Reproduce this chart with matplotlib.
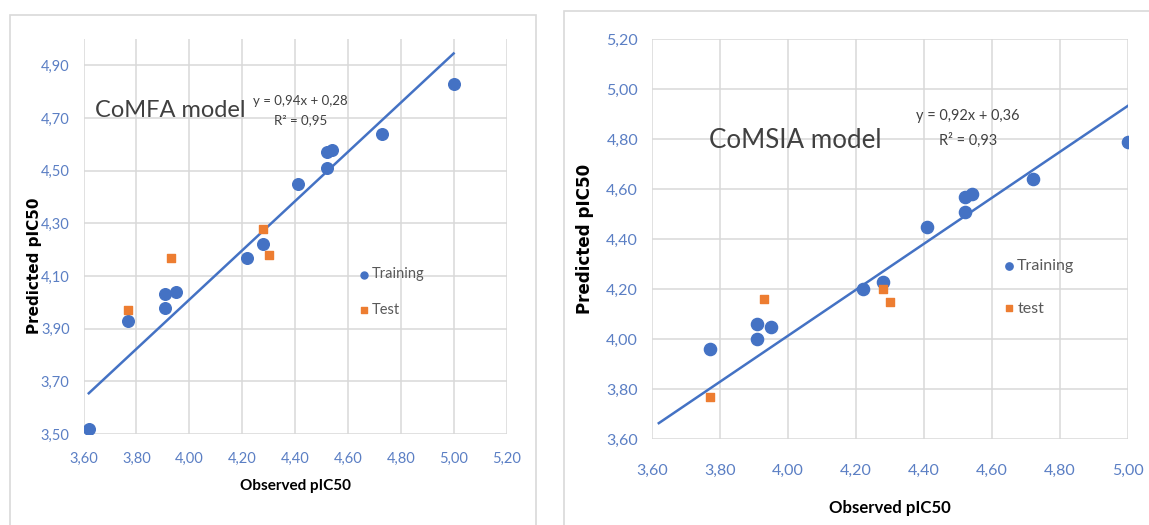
import numpy as np
import matplotlib.pyplot as plt
from matplotlib.patches import Rectangle

# CoMFA model (left panel)
comfa_train_x = [3.62, 3.77, 3.91, 3.91, 3.95, 4.22, 4.28, 4.41, 4.52, 4.54, 4.52, 4.73, 5.00]
comfa_train_y = [3.52, 3.93, 4.03, 3.98, 4.04, 4.17, 4.22, 4.45, 4.57, 4.58, 4.51, 4.64, 4.83]
comfa_test_x = [3.77, 3.93, 4.28, 4.30]
comfa_test_y = [3.97, 4.17, 4.28, 4.18]
comfa_fit = (0.935, 0.27)   # trend line as drawn
comfa_eq = "y = 0,94x + 0,28\nR² = 0,95"

# CoMSIA model (right panel)
comsia_train_x = [3.77, 3.91, 3.91, 3.95, 4.22, 4.28, 4.41, 4.52, 4.54, 4.52, 4.72, 5.00]
comsia_train_y = [3.96, 4.06, 4.00, 4.05, 4.20, 4.23, 4.45, 4.57, 4.58, 4.51, 4.64, 4.79]
comsia_test_x = [3.77, 3.93, 4.28, 4.30]
comsia_test_y = [3.77, 4.16, 4.20, 4.15]
comsia_fit = (0.92, 0.333)
comsia_eq = "y = 0,92x + 0,36\nR² = 0,93"

fit_range = [3.62, 5.00]

BLUE = '#4472C4'
ORANGE = '#ED7D31'
TICK = '#5b7fc4'
GRID = '#d9d9d9'
narrow = ['Lato', 'DejaVu Sans']

W, H = 1149, 525
fig = plt.figure(figsize=(W / 100, H / 100), dpi=100)

# panel frames
fig.patches.append(Rectangle((10 / W, -0.01), 526 / W, 1.01 - 15 / H, transform=fig.transFigure,
                             fill=False, edgecolor=GRID, lw=1.2))
fig.patches.append(Rectangle((564 / W, -0.01), 600 / W, 1.01 - 11 / H, transform=fig.transFigure,
                             fill=False, edgecolor=GRID, lw=1.2))


def comma(v):
    return f"{v:.2f}".replace('.', ',')


def panel(rect, tx, ty, ex, ey, fit, eq, title, test_name, xlim, ylim, xt, yt,
          title_pos, eq_pos, leg_anchor, k, xpad, xlpad, ylab_xy, legsp):
    ax = fig.add_axes(rect)
    ax.set_xlim(*xlim)
    ax.set_ylim(*ylim)
    ax.set_xticks(xt)
    ax.set_yticks(yt)
    ax.set_xticklabels([comma(v) for v in xt])
    ax.set_yticklabels([comma(v) for v in yt])
    ax.grid(True, color=GRID, lw=1.1)
    ax.set_axisbelow(True)
    for s in ax.spines.values():
        s.set_visible(False)
    ax.tick_params(length=0, labelcolor=TICK, labelsize=10.5 * k)
    ax.tick_params(axis='y', pad=10)
    ax.tick_params(axis='x', pad=xpad)
    for lab in ax.get_xticklabels() + ax.get_yticklabels():
        lab.set_family(narrow)

    ax.scatter(tx, ty, s=70 * k, color=BLUE, zorder=3, label='Training')
    ax.scatter(ex, ey, s=38 * k, color=ORANGE, marker='s', zorder=3, label=test_name)
    lx = np.array(fit_range)
    ax.plot(lx, fit[0] * lx + fit[1], color=BLUE, lw=1.8, zorder=2)

    ax.text(*title_pos, title, fontsize=17 * k, color='#404040', family=narrow,
            ha='center', va='center')
    ax.text(*eq_pos, eq, fontsize=9.5 * k, color='#404040', family=narrow,
            ha='center', va='center', linespacing=1.75)

    ax.set_xlabel('Observed pIC50', fontsize=11 * k, fontweight='bold', family=narrow,
                  labelpad=xlpad)
    ax.set_ylabel('Predicted pIC50', fontsize=11 * k, fontweight='bold')
    ax.yaxis.set_label_coords(*ylab_xy)

    leg = ax.legend(loc='upper left', bbox_to_anchor=leg_anchor, frameon=False,
                    fontsize=10.5 * k, labelcolor='#595959', handletextpad=0.1,
                    handlelength=0.8, labelspacing=legsp, borderpad=0, markerscale=0.6)
    for t in leg.get_texts():
        t.set_family(narrow)
    return ax


panel([83.5 / W, 1 - 434 / H, 423 / W, 395 / H],
      comfa_train_x, comfa_train_y, comfa_test_x, comfa_test_y, comfa_fit, comfa_eq,
      'CoMFA model', 'Test', (3.6, 5.2), (3.5, 5.0),
      np.arange(3.6, 5.21, 0.2), np.arange(3.5, 4.91, 0.2),
      (3.93, 4.73), (4.42, 4.728), (0.633, 0.44),
      1.0, 13, 9, (-0.098, 0.425), 1.45)

panel([652 / W, 1 - 439 / H, 476 / W, 400 / H],
      comsia_train_x, comsia_train_y, comsia_test_x, comsia_test_y, comsia_fit, comsia_eq,
      'CoMSIA model', 'test', (3.6, 5.0), (3.6, 5.2),
      np.arange(3.6, 5.01, 0.2), np.arange(3.6, 5.21, 0.2),
      (4.02, 4.796), (4.53, 4.842), (0.72, 0.47),
      1.1, 18, 16, (-0.122, 0.5), 1.75)

fig.savefig('out.png', dpi=100)
